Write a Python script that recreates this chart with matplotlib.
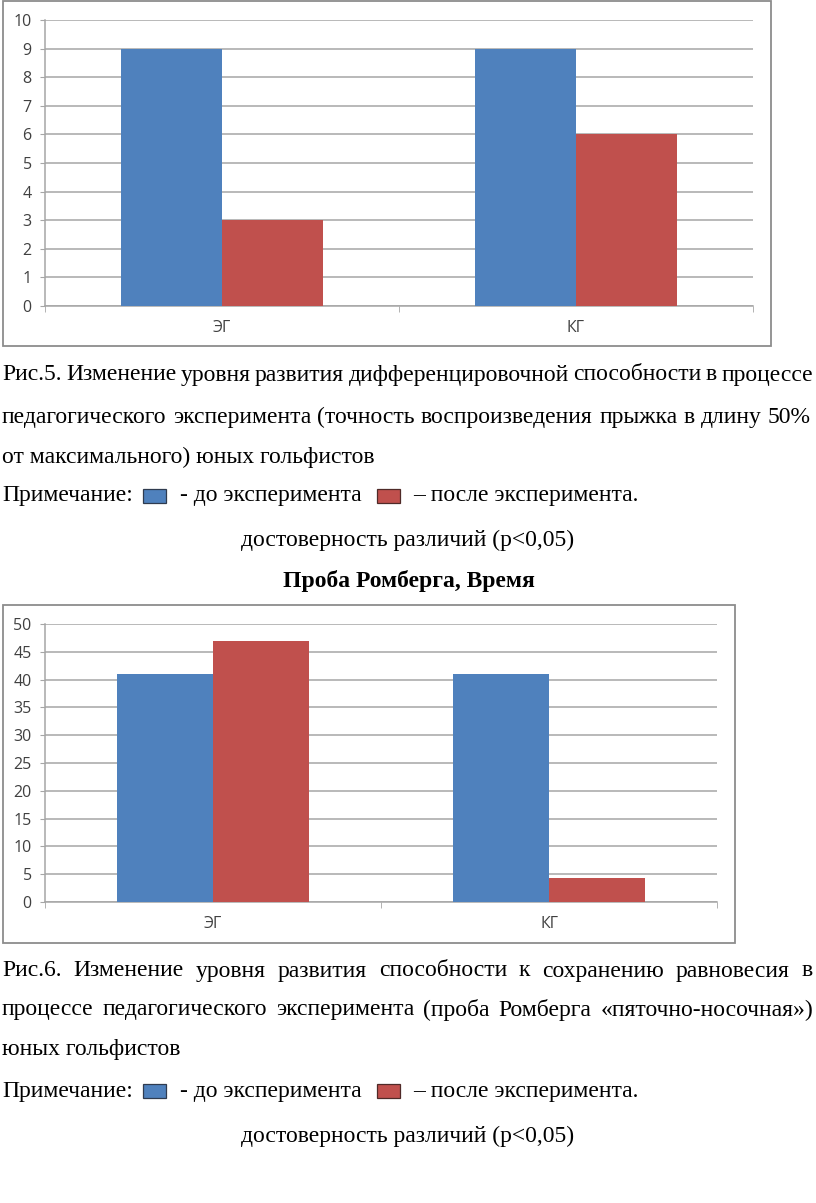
import matplotlib
matplotlib.use("Agg")
import matplotlib.pyplot as plt
from matplotlib.patches import Rectangle

# data
categories = ['ЭГ', 'КГ']
jump_before = [9, 9]
jump_after = [3, 6]
romberg_before = [41, 41]
romberg_after = [47, 4.3]

blue = '#4F81BD'
red = '#C0504D'
grid_c = '#A6A6A6'

W, H = 816, 1203
fig = plt.figure(figsize=(W / 100, H / 100), dpi=100)
renderer = fig.canvas.get_renderer()

serif = 'Liberation Serif'
fs = 17


def px(x, y):
    # pixel coords (top-left origin) -> figure fraction
    return x / W, 1 - y / H


def frame(x0, y0, x1, y1):
    fig.add_artist(Rectangle(px(x0, y1), (x1 - x0) / W, (y1 - y0) / H,
                             transform=fig.transFigure, fill=False,
                             edgecolor='#8C8C8C', linewidth=1.3))


def bar_chart(left, top, right, bottom, before, after, ymax, step):
    ax = fig.add_axes([left / W, 1 - bottom / H, (right - left) / W, (bottom - top) / H])
    x = range(len(categories))
    w = 0.285
    ax.bar([i - w / 2 for i in x], before, width=w, color=blue, zorder=3)
    ax.bar([i + w / 2 for i in x], after, width=w, color=red, zorder=3)
    ax.set_xlim(-0.5, len(categories) - 0.5)
    ax.set_ylim(0, ymax)
    ax.set_yticks(range(0, ymax + 1, step))
    ax.yaxis.grid(True, color=grid_c, linewidth=1.1, zorder=0)
    ax.set_xticks(list(x))
    ax.set_xticklabels(categories)
    ax.set_xticks([-0.5, 0.5, 1.5], minor=True)
    ax.tick_params(axis='x', which='major', length=0, pad=10)
    ax.tick_params(axis='x', which='minor', length=4, color=grid_c)
    ax.tick_params(axis='y', length=3.6, color=grid_c, pad=6)
    for lab in ax.get_xticklabels() + ax.get_yticklabels():
        lab.set_fontfamily('Open Sans')
        lab.set_fontsize(11.5)
        lab.set_color('#404040')
    for s in ['top', 'right']:
        ax.spines[s].set_visible(False)
    ax.spines['left'].set_color(grid_c)
    ax.spines['bottom'].set_color(grid_c)
    ax.spines['left'].set_linewidth(1.1)
    ax.spines['bottom'].set_linewidth(1.1)
    return ax


def line(txt, x, y, justify_to=None, **kw):
    if justify_to is None:
        fig.text(*px(x, y), txt, fontfamily=serif, fontsize=fs, va='center', **kw)
        return
    words = txt.split(' ')
    objs = [fig.text(0, 0, w_, fontfamily=serif, fontsize=fs, va='center') for w_ in words]
    widths = [o.get_window_extent(renderer).width for o in objs]
    gap = (justify_to - x - sum(widths)) / (len(words) - 1)
    cx = x
    for o, wd in zip(objs, widths):
        o.set_position(px(cx, y))
        cx += wd + gap


def note(y):
    fig.text(*px(2, y), 'Примечание:', fontfamily=serif, fontsize=fs, va='center')
    fig.add_artist(Rectangle(px(143, y + 7), 23 / W, 14 / H, transform=fig.transFigure,
                             facecolor=blue, edgecolor='#2F3B4F', linewidth=0.9))
    fig.text(*px(180, y), '- до эксперимента', fontfamily=serif, fontsize=fs, va='center')
    fig.add_artist(Rectangle(px(377, y + 7), 23 / W, 14 / H, transform=fig.transFigure,
                             facecolor=red, edgecolor='#4F2A28', linewidth=0.9))
    fig.text(*px(413, y), '– после эксперимента.', fontfamily=serif, fontsize=fs, va='center')


# top chart
frame(3, 1, 771, 346)
bar_chart(45, 20, 753, 306, jump_before, jump_after, 10, 1)

line('Рис.5. Изменение уровня развития дифференцировочной способности в процессе', 2, 375, justify_to=813)
line('педагогического эксперимента (точность воспроизведения прыжка в длину 50%', 2, 417, justify_to=811)
line('от максимального) юных гольфистов', 2, 457)
note(496)
fig.text(*px(408, 540), 'достоверность различий (p<0,05)', fontfamily=serif, fontsize=fs,
         va='center', ha='center')
fig.text(*px(409, 581), 'Проба Ромберга, Время', fontfamily=serif, fontsize=fs,
         fontweight='bold', va='center', ha='center')

# bottom chart
frame(3, 605, 735, 943)
bar_chart(45, 624, 717, 902, romberg_before, romberg_after, 50, 5)

line('Рис.6. Изменение уровня развития способности к сохранению равновесия в', 2, 971, justify_to=813)
line('процессе педагогического эксперимента (проба Ромберга «пяточно-носочная»)', 2, 1010, justify_to=813)
line('юных гольфистов', 2, 1050)
note(1091)
fig.text(*px(408, 1136), 'достоверность различий (p<0,05)', fontfamily=serif, fontsize=fs,
         va='center', ha='center')

fig.savefig('out.png', dpi=100)
